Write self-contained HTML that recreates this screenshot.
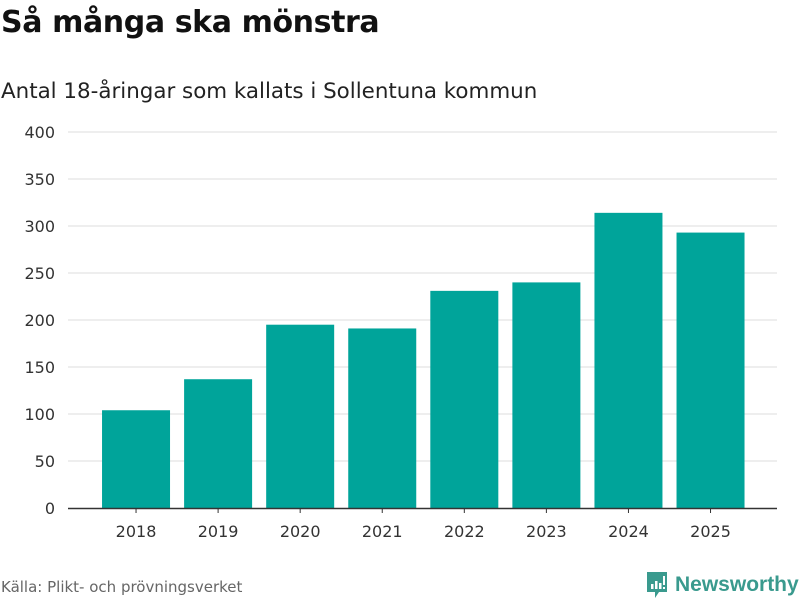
<!DOCTYPE html>
<html><head><meta charset="utf-8"><style>
body{margin:0;width:800px;height:600px;background:#fff;font-family:"DejaVu Sans","Liberation Sans",sans-serif;overflow:hidden;position:relative}
#title{position:absolute;left:1px;top:5px;font-size:30px;font-weight:bold;color:#111;letter-spacing:-0.4px}
#sub{position:absolute;left:1px;top:79px;font-size:21.4px;color:#222}
#src{position:absolute;left:1px;top:578px;font-size:15px;color:#666}
#logo{position:absolute;left:645px;top:570px;display:flex;align-items:center}
#logo span{font-family:"Liberation Sans",sans-serif;font-size:21px;font-weight:bold;color:#3a9a8e;margin-left:6px}
</style></head><body>
<div id="title">Så många ska mönstra</div>
<div id="sub">Antal 18-åringar som kallats i Sollentuna kommun</div>
<svg id="chart" width="800" height="600" style="position:absolute;left:0;top:0"></svg>
<div id="src">Källa: Plikt- och prövningsverket</div>
<div id="logo">
<svg width="24" height="30" viewBox="0 0 24 30"><path d="M2 2h20v20h-8l-4 6v-6H2z" fill="#3a9a8e"/><rect x="6" y="14" width="2.5" height="5" fill="#fff"/><rect x="10" y="11" width="2.5" height="8" fill="#fff"/><rect x="14" y="13" width="2.5" height="6" fill="#fff"/><rect x="18" y="6" width="2" height="9" fill="#fff"/><rect x="18" y="17" width="2" height="2" fill="#fff"/></svg>
<span>Newsworthy</span></div>
<script>
const categories=["2018","2019","2020","2021","2022","2023","2024","2025"];
const values=[104,137,195,191,231,240,314,293];
const yTicks=[0,50,100,150,200,250,300,350,400];
const svg=document.getElementById('chart');
const NS='http://www.w3.org/2000/svg';
const y0=508,y1=132,yMax=400;
const y=v=>y0-(v/yMax)*(y0-y1);
const xStart=95,step=82.07,bw=68;
const xc=i=>xStart+step*(i+0.5);
function mk(t,a){const e=document.createElementNS(NS,t);for(const k in a)e.setAttribute(k,a[k]);svg.appendChild(e);return e;}
yTicks.forEach(t=>{
 if(t>0){const l=mk('line',{x1:68,x2:777,y1:y(t),y2:y(t),stroke:'#ddd','stroke-width':1});
 
 }
 const tx=mk('text',{x:55,y:y(t)+6,'text-anchor':'end','font-size':16,fill:'#333','font-family':'DejaVu Sans, sans-serif'});
 tx.textContent=t;
 
 
});
values.forEach((v,i)=>{
 const r=mk('rect',{x:xc(i)-bw/2,y:y(v),width:bw,height:y0-y(v),fill:'#00a49a'});
 
 
 const tx=mk('text',{x:xc(i),y:537,'text-anchor':'middle','font-size':16,fill:'#333','font-family':'DejaVu Sans, sans-serif'});
 tx.textContent=categories[i];
 
 
 const tk=mk('line',{x1:xc(i),x2:xc(i),y1:y0,y2:y0+5,stroke:'#333'});
 
 
});
const ax=mk('line',{x1:68,x2:777,y1:y0+0.5,y2:y0+0.5,stroke:'#333','stroke-width':1.5});


</script>
</body></html>
